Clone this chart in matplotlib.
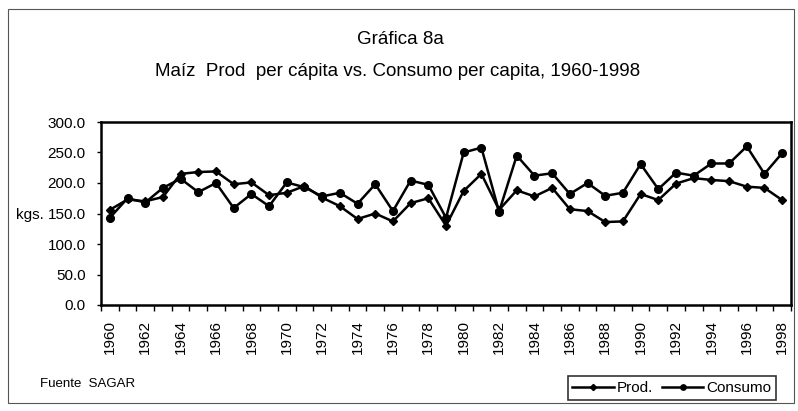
import matplotlib
matplotlib.use("Agg")
import matplotlib.pyplot as plt
from matplotlib.patches import Rectangle

plt.rcParams['font.family'] = ['Liberation Sans', 'DejaVu Sans']

years = list(range(1960, 1999))
prod = [156, 173, 170, 177, 215, 218, 219, 198, 201, 180,
        184, 195, 176, 162, 141, 150, 137, 167, 175, 130,
        187, 215, 156, 188, 178, 192, 157, 154, 136, 137,
        182, 172, 199, 208, 205, 203, 194, 192, 172]
consumo = [143, 175, 168, 192, 207, 185, 200, 159, 182, 162,
           201, 193, 178, 184, 166, 198, 154, 204, 197, 143,
           250, 258, 153, 245, 212, 216, 182, 200, 179, 184,
           231, 190, 217, 212, 232, 232, 260, 215, 249]
yticks = [0, 50, 100, 150, 200, 250, 300]
ytick_labels = ["0.0", "50.0", "100.0", "150.0", "200.0", "250.0", "300.0"]
xtick_years = list(range(1960, 1999, 2))

W, H = 798, 411
fig = plt.figure(figsize=(W / 100, H / 100), dpi=100)

# outer frame
fig.patches.append(Rectangle((8 / W, 8 / H), 786 / W, 394 / H, transform=fig.transFigure,
                             fill=False, edgecolor='#555555', linewidth=0.8))

ax = fig.add_axes([101 / W, 1 - 305 / H, (791 - 101) / W, (305 - 122) / H])
ax.plot(years, prod, color='black', lw=1.8, marker='D', ms=4.5, mfc='black', mec='black', label='Prod.')
ax.plot(years, consumo, color='black', lw=1.8, marker='o', ms=5.5, mfc='black', mec='black', label='Consumo')

ax.set_xlim(1959.5, 1998.5)
ax.set_ylim(0, 300)
ax.set_yticks(yticks)
ax.set_yticklabels(ytick_labels, fontsize=11)
ax.set_xticks(xtick_years)
ax.set_xticklabels([str(y) for y in xtick_years], rotation=90, fontsize=11)
ax.tick_params(axis='x', length=0, pad=11)
ax.set_xticks([y + 0.5 for y in range(1959, 1999)], minor=True)
ax.tick_params(axis='x', which='minor', length=4, direction='out', width=1)
ax.tick_params(axis='y', length=3, direction='out', width=1, pad=8)
for s in ax.spines.values():
    s.set_linewidth(1.8)

fig.text(400 / W, 1 - 39 / H, "Gráfica 8a", ha='center', va='center', fontsize=13.5)
fig.text(398 / W, 1 - 72 / H, "Maíz  Prod  per cápita vs. Consumo per capita, 1960-1998",
         ha='center', va='center', fontsize=13.5)
fig.text(44 / W, 1 - 215 / H, "kgs.", ha='right', va='center', fontsize=11)
fig.text(40 / W, 1 - 384 / H, "Fuente  SAGAR", ha='left', va='center', fontsize=9.5)

leg = fig.legend(loc='center', bbox_to_anchor=(672 / W, 1 - 388 / H), ncol=2, frameon=True,
                 fancybox=False, edgecolor='black', fontsize=11, handlelength=2.7,
                 handletextpad=0.2, columnspacing=0.6, borderpad=0.3, markerscale=0.7)
leg.get_frame().set_linewidth(1.2)

fig.savefig("out.png", dpi=100)
